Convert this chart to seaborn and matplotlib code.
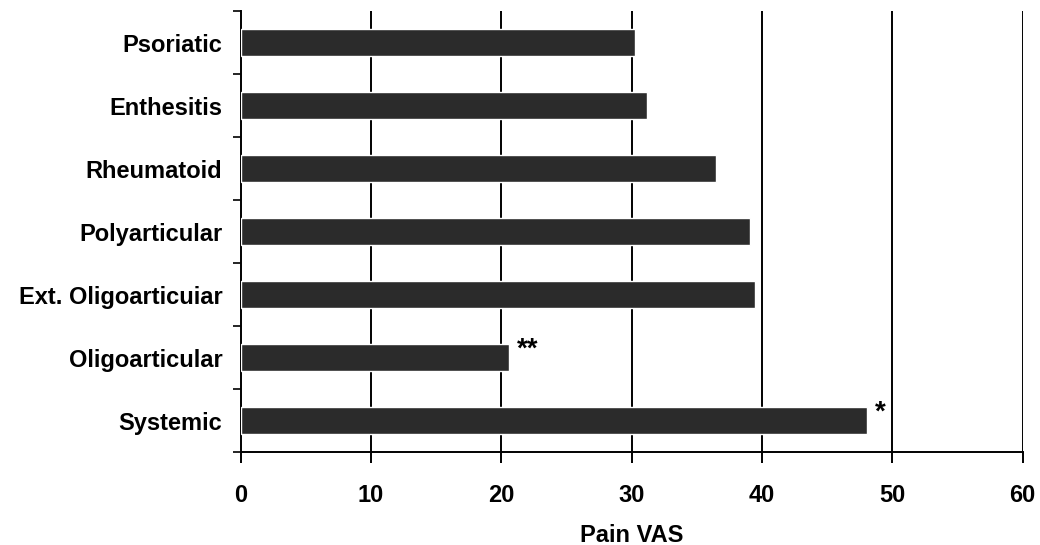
import matplotlib
matplotlib.use("Agg")
import matplotlib.pyplot as plt
import seaborn as sns
import pandas as pd
import numpy as np

categories = ["Psoriatic", "Enthesitis", "Rheumatoid", "Polyarticular",
              "Ext. Oligoarticuiar", "Oligoarticular", "Systemic"]
pain_vas = [30.3, 31.2, 36.5, 39.1, 39.5, 20.6, 48.1]
annotations = ["", "", "", "", "", "**", "*"]
x_ticks = [0, 10, 20, 30, 40, 50, 60]

sns.set_theme(style="white")
plt.rcParams['font.family'] = ['Liberation Sans', 'DejaVu Sans']
plt.rcParams['text.color'] = 'black'
plt.rcParams['xtick.color'] = 'black'
plt.rcParams['ytick.color'] = 'black'
plt.rcParams['axes.labelcolor'] = 'black'

df = pd.DataFrame({"category": categories, "value": pain_vas})

fig = plt.figure(figsize=(10.4, 5.45), dpi=100)
ax = fig.add_axes([240.5/1040, 1 - 452/545, (1022.5-240.5)/1040, (452-11)/545])

sns.barplot(data=df, y="category", x="value", order=categories, color="#2b2b2b",
            saturation=1, width=0.43, ax=ax, zorder=3)

ax.set_xlim(0, 60)
ax.set_ylim(len(categories) - 0.5, -0.5)
ax.set_xticks(x_ticks)
ax.set_xticklabels([str(t) for t in x_ticks], fontsize=17, fontweight="bold")
for t in x_ticks[1:]:
    ax.axvline(t, color="black", lw=1.4, zorder=1)

ax.set_yticks(range(len(categories)))
ax.set_yticklabels(categories, fontsize=17, fontweight="bold")
ax.set_yticks(np.arange(-0.5, len(categories), 1), minor=True)
ax.tick_params(axis="y", which="major", length=0, pad=13)
ax.tick_params(axis="y", which="minor", length=6, width=1.2, color="black", direction="out", left=True)
ax.tick_params(axis="x", which="major", length=8, width=1.4, color="black", direction="out", bottom=True, pad=15)

for s in ["top", "right"]:
    ax.spines[s].set_visible(False)
for s in ["left", "bottom"]:
    ax.spines[s].set_color("black")
    ax.spines[s].set_linewidth(1.4)

ax.set_xlabel("Pain VAS", fontsize=17, fontweight="bold", labelpad=12)
ax.set_ylabel("")

for i, (v, a) in enumerate(zip(pain_vas, annotations)):
    if a:
        ax.text(v + 0.6, i - 0.12, a, fontsize=20, fontweight="bold", ha="left", va="center")

fig.savefig("out.png", dpi=100)
